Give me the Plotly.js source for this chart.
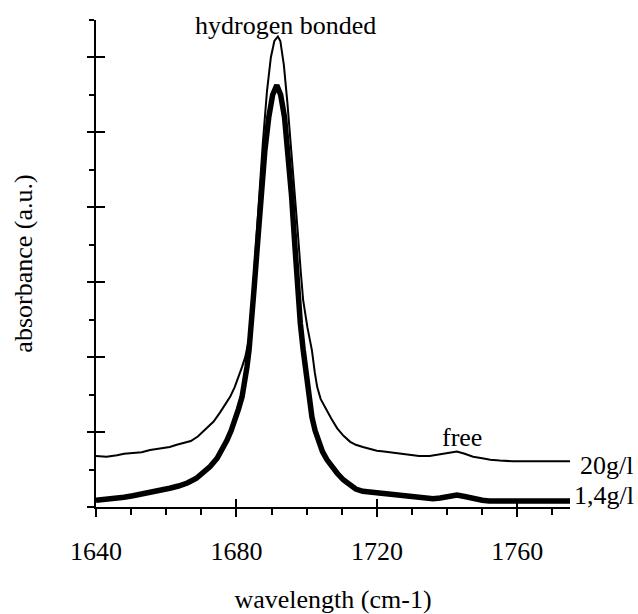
<!DOCTYPE html>
<html>
<head>
<meta charset="utf-8">
<script src="https://cdn.plot.ly/plotly-3.0.1.min.js"></script>
<style>html,body{margin:0;padding:0;background:#fff;}#chart{width:638px;height:614px;}</style>
</head>
<body>
<div id="chart"></div>
<script>
// 20 g/l spectrum (thin line)
const wn20 = [1640,1643,1646,1648,1650.5,1653,1655.4,1658,1661,1663,1665,1667,1669,1671.6,1673.5,1675.3,1677,1678.2,1679.5,1680.5,1681.6,1682.5,1683.9,1684.5,1685.5,1686.5,1687.5,1688.7,1689.8,1690.8,1691.8,1692.5,1693.5,1694.5,1695.5,1696.5,1697.5,1698.3,1699,1700.2,1701.5,1702.3,1703,1704,1705.2,1707,1708.7,1710.5,1712.4,1714,1716,1718,1720,1722,1723.8,1726,1729.5,1732,1735,1738,1740,1742.8,1745,1747.4,1750,1752.3,1755,1758.8,1763,1767,1771,1775];
const abs20 = [0.68,0.67,0.69,0.71,0.72,0.73,0.76,0.78,0.80,0.83,0.86,0.88,0.94,1.05,1.14,1.26,1.38,1.47,1.60,1.72,1.87,2.00,2.32,2.76,3.50,4.20,4.85,5.55,6.00,6.22,6.28,6.22,5.90,5.40,4.85,4.25,3.65,3.15,2.76,2.40,2.09,1.80,1.60,1.44,1.33,1.18,1.05,0.95,0.87,0.83,0.80,0.77,0.75,0.74,0.73,0.71,0.69,0.68,0.68,0.70,0.72,0.74,0.71,0.67,0.65,0.63,0.62,0.61,0.61,0.61,0.61,0.61];

// 1.4 g/l spectrum (thick line)
const wn14 = [1640,1643,1646,1648,1650.5,1653,1655.4,1658,1661,1663.5,1666,1668.5,1670.5,1672.5,1674.5,1676,1677.3,1678.5,1679.6,1680.6,1681.6,1682.4,1683,1683.6,1684.2,1685,1685.9,1687,1688.1,1689.2,1690.3,1691.5,1692.6,1693.7,1694.7,1695.7,1696.7,1697.5,1698.2,1699,1700.1,1701.5,1702.4,1703.2,1704.5,1705.8,1707.2,1708.7,1710.5,1712.4,1714,1716,1718,1720,1723,1725.8,1728.5,1731.5,1734,1736,1738,1740,1742.8,1745,1747.4,1750,1752,1756,1760,1765,1770,1775];
const abs14 = [0.09,0.10,0.11,0.13,0.15,0.17,0.20,0.22,0.25,0.28,0.32,0.38,0.45,0.54,0.65,0.77,0.89,1.02,1.16,1.31,1.47,1.68,1.87,2.10,2.40,2.90,3.45,4.15,4.76,5.20,5.50,5.63,5.50,5.20,4.76,4.15,3.45,2.85,2.45,2.10,1.65,1.20,1.02,0.89,0.74,0.63,0.53,0.45,0.36,0.29,0.24,0.21,0.20,0.19,0.17,0.16,0.14,0.12,0.11,0.11,0.12,0.13,0.16,0.14,0.11,0.09,0.08,0.08,0.08,0.08,0.08,0.08];

const xTickVals = [1640,1680,1720,1760];
const xTickText = ['1640','1680','1720','1760'];
const seriesNames = ['20g/l','1,4g/l'];

const FONT = "'Liberation Serif', 'Times New Roman', serif";
const FS = 26;
const XR = [1640,1775], YR = [0,6.5];

const traces = [
  {x: wn20, y: abs20, type:'scatter', mode:'lines', name: seriesNames[0],
   line:{color:'#000', width:2}, xaxis:'x', yaxis:'y', hoverinfo:'skip'},
  {x: wn14, y: abs14, type:'scatter', mode:'lines', name: seriesNames[1],
   line:{color:'#000', width:5.5}, xaxis:'x2', yaxis:'y2', hoverinfo:'skip'}
];

const layout = {
  width:638, height:614,
  margin:{l:96, r:68, t:20, b:107},
  paper_bgcolor:'#fff', plot_bgcolor:'#fff',
  showlegend:false,
  font:{family:FONT, size:FS, color:'#000'},
  xaxis:{
    range:XR, showgrid:false, zeroline:false, fixedrange:true,
    showline:true, linecolor:'#000', linewidth:2,
    ticks:'outside', ticklen:8, tickwidth:2, tickcolor:'#000',
    tickmode:'array', tickvals:xTickVals, ticktext:xTickText,
    ticklabelstandoff:12,
    minor:{dtick:10, tick0:1640, ticks:'outside', ticklen:6, tickwidth:2, tickcolor:'#000', showgrid:false},
    tickfont:{family:FONT, size:FS, color:'#000'},
    title:{text:'wavelength (cm-1)', font:{family:FONT, size:FS, color:'#000'}, standoff:36},
    automargin:false
  },
  yaxis:{
    range:YR, showgrid:false, zeroline:false, fixedrange:true,
    showline:true, linecolor:'#000', linewidth:2,
    ticks:'outside', ticklen:7, tickwidth:2, tickcolor:'#000',
    dtick:1, tick0:0, showticklabels:false,
    minor:{dtick:0.5, tick0:0, ticks:'outside', ticklen:5, tickwidth:2, tickcolor:'#000', showgrid:false},
    title:{text:'absorbance (a.u.)', font:{family:FONT, size:FS, color:'#000'}, standoff:47},
    automargin:false
  },
  xaxis2:{
    range:XR, overlaying:'x', anchor:'y2', side:'bottom',
    showgrid:false, zeroline:false, showline:false, fixedrange:true,
    ticks:'inside', ticklen:8, tickwidth:2, tickcolor:'#000',
    tickmode:'array', tickvals:xTickVals, showticklabels:false
  },
  yaxis2:{
    range:YR, overlaying:'y', anchor:'x2', side:'left',
    showgrid:false, zeroline:false, showline:false, fixedrange:true,
    ticks:'inside', ticklen:9, tickwidth:2, tickcolor:'#000',
    dtick:1, tick0:0, showticklabels:false
  },
  annotations:[
    {x:1694.1, y:6.43, xref:'x', yref:'y', text:'hydrogen bonded', showarrow:false,
     xanchor:'center', yanchor:'middle', font:{family:FONT, size:FS, color:'#000'}},
    {x:1744.3, y:0.93, xref:'x', yref:'y', text:'free', showarrow:false,
     xanchor:'center', yanchor:'middle', font:{family:FONT, size:FS, color:'#000'}},
    {x:1, xshift:8, y:0.56, xref:'paper', yref:'y', text:seriesNames[0], showarrow:false,
     xanchor:'left', yanchor:'middle', font:{family:FONT, size:FS, color:'#000'}},
    {x:1, xshift:2, y:0.16, xref:'paper', yref:'y', text:seriesNames[1], showarrow:false,
     xanchor:'left', yanchor:'middle', font:{family:FONT, size:FS, color:'#000'}}
  ]
};

Plotly.newPlot('chart', traces, layout, {staticPlot:true, displayModeBar:false});
</script>
</body>
</html>
